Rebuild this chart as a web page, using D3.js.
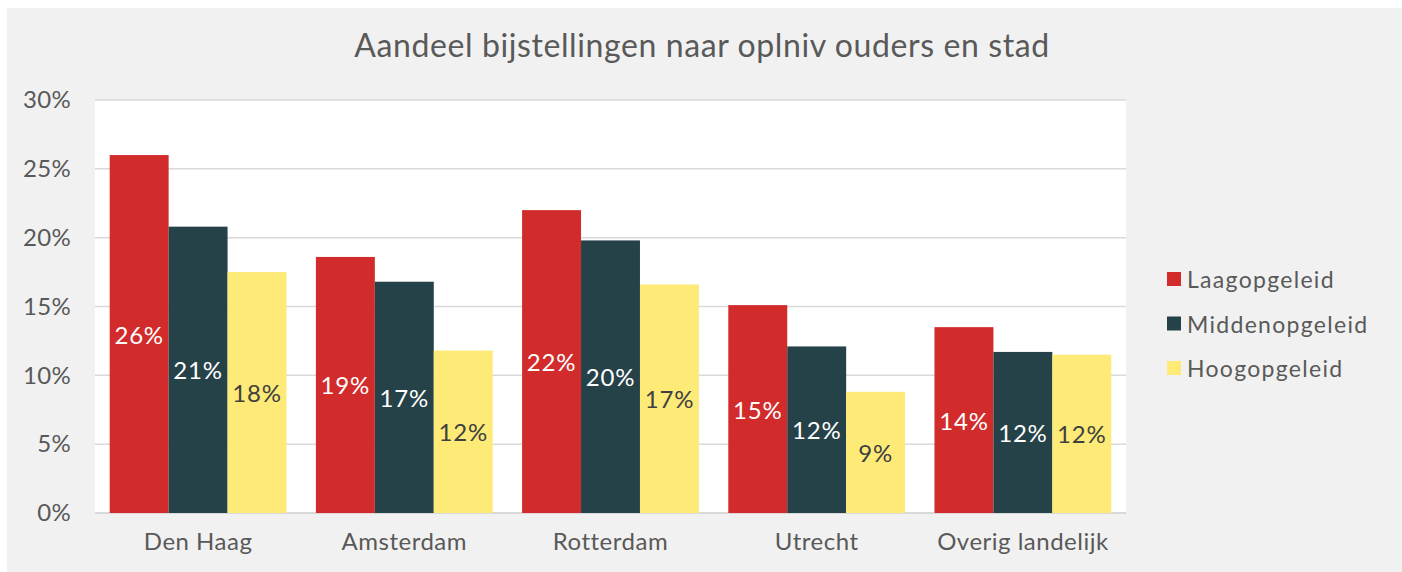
<!DOCTYPE html>
<html><head><meta charset="utf-8">
<script src="https://cdn.jsdelivr.net/npm/d3@7"></script>
<style>
html,body{margin:0;padding:0;background:#fff;}
svg{display:block;font-family:Lato,"Open Sans",sans-serif;}
</style></head>
<body><svg id="c" width="1402" height="572"></svg>
<script>
const title = "Aandeel bijstellingen naar oplniv ouders en stad";
const categories = ["Den Haag","Amsterdam","Rotterdam","Utrecht","Overig landelijk"];
const seriesNames = ["Laagopgeleid","Middenopgeleid","Hoogopgeleid"];
const laag = [26.0, 18.6, 22.0, 15.1, 13.5];
const midden = [20.8, 16.8, 19.8, 12.1, 11.7];
const hoog = [17.5, 11.8, 16.6, 8.8, 11.5];
const yTicks = [0,5,10,15,20,25,30];
const colors = ["#d22b2b","#264249","#fdea77"];
const labelColors = ["#ffffff","#ffffff","#404040"];

const seriesValues = [laag, midden, hoog];
const svg = d3.select("#c");
svg.append("rect").attr("x",7).attr("y",8).attr("width",1395).attr("height",564).attr("fill","#f1f1f1");

const plot = {l:95, r:1126, t:100, b:513};
svg.append("rect").attr("x",plot.l).attr("y",plot.t).attr("width",plot.r-plot.l).attr("height",plot.b-plot.t).attr("fill","#fff");

const x0 = d3.scaleBand().domain(categories).range([plot.l,plot.r]).paddingInner(0.1425).paddingOuter(0.07125);
const x1 = d3.scaleBand().domain(seriesNames).range([0,x0.bandwidth()]);
const y = d3.scaleLinear().domain([0,30]).range([plot.b,plot.t]);

// gridlines
svg.append("g").selectAll("line").data(yTicks).join("line")
  .attr("x1",plot.l).attr("x2",plot.r)
  .attr("y1",d=>y(d)).attr("y2",d=>y(d))
  .attr("stroke","#d9d9d9").attr("stroke-width",d=>d===0?2:1.5);

const W = 400;
// y axis labels
const yAxis = d3.axisLeft(y).tickValues(yTicks).tickFormat(d=>d+"%").tickSize(0).tickPadding(0);
const ya = svg.append("g").attr("transform",`translate(71,0)`).call(yAxis);
ya.select(".domain").remove();
ya.selectAll("text").attr("font-size",24).attr("fill","#595959").attr("font-family","Lato").attr("font-weight",W).attr("letter-spacing",0.3);

// x axis labels
const xAxis = d3.axisBottom(x0).tickSize(0).tickPadding(0);
const xa = svg.append("g").attr("transform",`translate(0,${plot.b+20})`).call(xAxis);
xa.select(".domain").remove();
xa.selectAll("text").attr("font-size",24).attr("fill","#595959").attr("font-family","Lato").attr("font-weight",W).attr("letter-spacing",0.5);

// bars
const data = [];
categories.forEach((c,i)=>seriesNames.forEach((s,j)=>data.push({c,s,j,v:seriesValues[j][i]})));
const g = svg.append("g");
g.selectAll("rect").data(data).join("rect")
  .attr("x",d=>x0(d.c)+x1(d.s)).attr("width",x1.bandwidth())
  .attr("y",d=>y(d.v)).attr("height",d=>y(0)-y(d.v))
  .attr("fill",d=>colors[d.j]);
g.selectAll("text").data(data).join("text")
  .attr("x",d=>x0(d.c)+x1(d.s)+x1.bandwidth()/2)
  .attr("y",d=>(y(d.v)+y(0))/2)
  .attr("text-anchor","middle").attr("dominant-baseline","central")
  .attr("font-size",24).attr("font-weight",W).attr("letter-spacing",0.8).attr("fill",d=>labelColors[d.j])
  .text(d=>Math.round(d.v)+"%");

// title
svg.append("text").attr("x",702).attr("y",57).attr("text-anchor","middle")
  .attr("font-size",32).attr("font-weight",W).attr("letter-spacing",0.6).attr("fill","#595959").text(title);

// legend
const lg = svg.append("g").attr("transform","translate(1167,272)");
seriesNames.forEach((s,j)=>{
  const row = lg.append("g").attr("transform",`translate(0,${j*44.5})`);
  row.append("rect").attr("width",14).attr("height",14).attr("fill",colors[j]);
  row.append("text").attr("x",20).attr("y",7).attr("dominant-baseline","central")
    .attr("font-size",23).attr("font-weight",W).attr("letter-spacing",1.3).attr("fill","#595959").text(s);
});
</script></body></html>
